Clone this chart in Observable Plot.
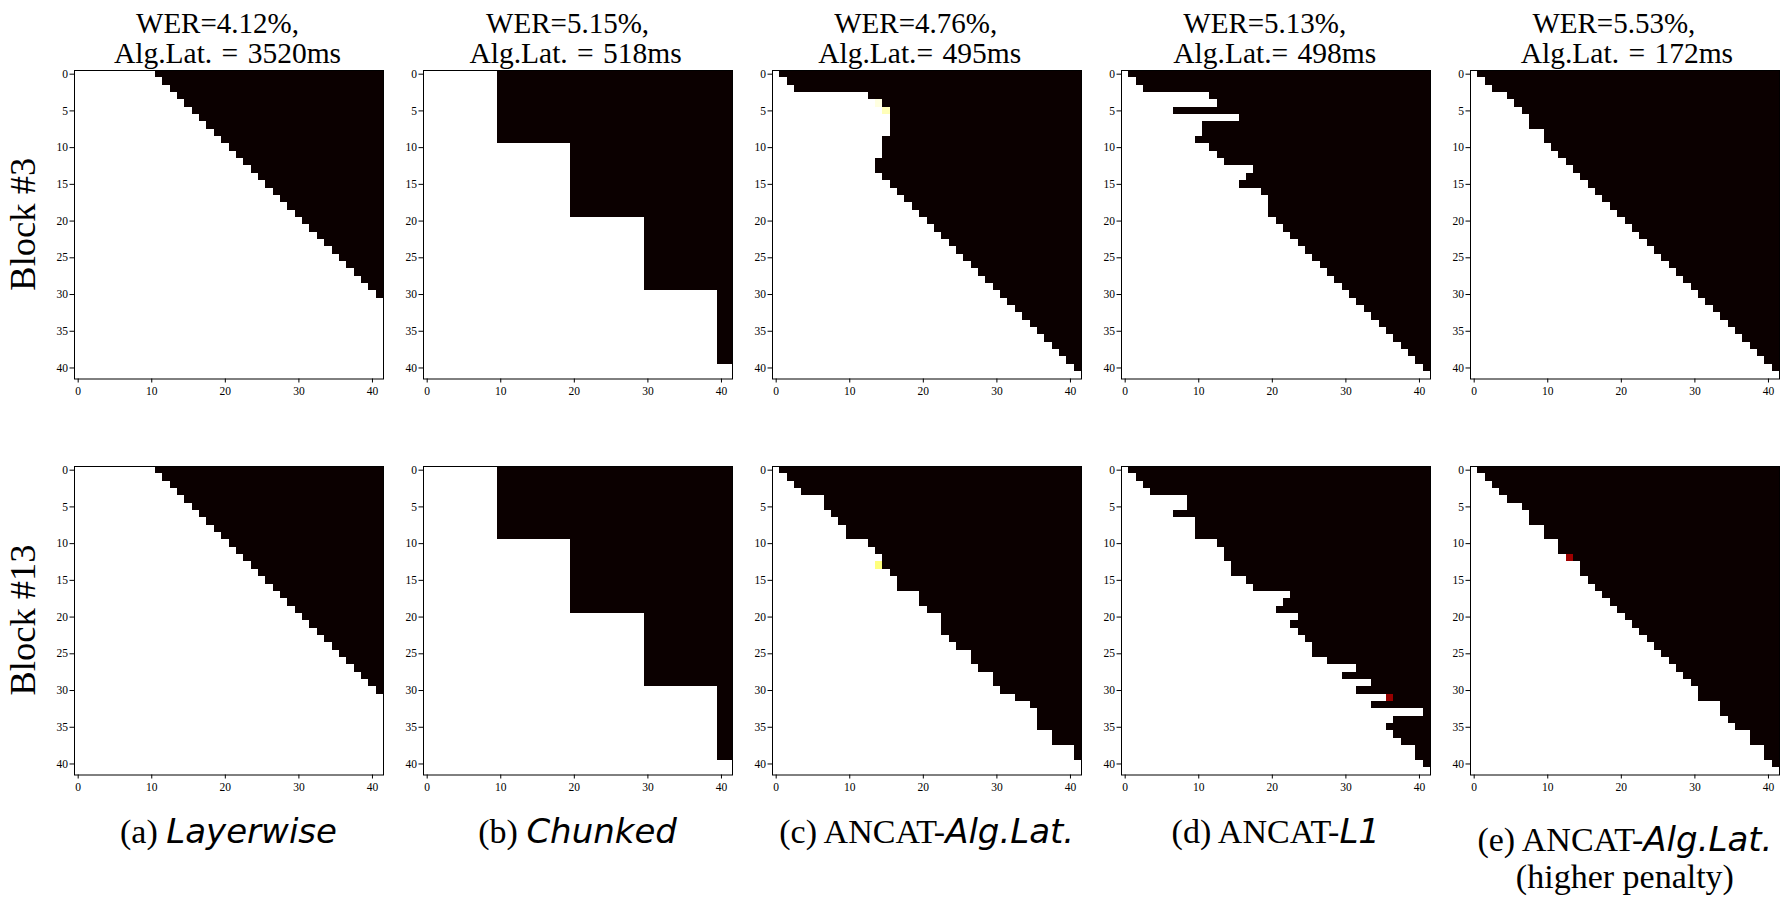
<!DOCTYPE html>
<html><head><meta charset="utf-8">
<script src="https://cdn.jsdelivr.net/npm/d3@7"></script>
<script src="https://cdn.jsdelivr.net/npm/@observablehq/plot@0.6"></script>
<style>
body{margin:0;background:#fff;}
#fig{position:relative;width:1792px;height:907px;overflow:hidden;background:#fff;}
#fig .panel{position:absolute;}
#overlay{position:absolute;left:0;top:0;}
#overlay text{font-family:'Liberation Serif','Times New Roman',serif;}
#overlay tspan.it{font-family:'DejaVu Sans',sans-serif;font-style:italic;}
</style></head><body><div id="fig"></div>
<script>
// ---- data: first masked (black) column for each of the 42 query rows ----
const layerwiseB3  = [11,12,13,14,15,16,17,18,19,20,21,22,23,24,25,26,27,28,29,30,31,32,33,34,35,36,37,38,39,40,41,42,42,42,42,42,42,42,42,42,42,42];
const layerwiseB13 = [11,12,13,14,15,16,17,18,19,20,21,22,23,24,25,26,27,28,29,30,31,32,33,34,35,36,37,38,39,40,41,42,42,42,42,42,42,42,42,42,42,42];
const chunkedB3    = [10,10,10,10,10,10,10,10,10,10,20,20,20,20,20,20,20,20,20,20,30,30,30,30,30,30,30,30,30,30,40,40,40,40,40,40,40,40,40,40,42,42];
const chunkedB13   = [10,10,10,10,10,10,10,10,10,10,20,20,20,20,20,20,20,20,20,20,30,30,30,30,30,30,30,30,30,30,40,40,40,40,40,40,40,40,40,40,42,42];
const ancatLatB3   = [1,2,3,13,15,16,16,16,16,15,15,15,14,14,15,16,17,18,19,20,21,22,23,24,25,26,27,28,29,30,31,32,33,34,35,36,37,38,39,40,41,42];
const ancatLatB13  = [1,2,3,4,7,7,8,9,10,10,13,14,15,15,16,17,17,20,20,21,23,23,23,24,25,27,27,28,30,30,31,33,35,36,36,36,38,38,41,41,42,42];
const ancatL1B3    = [1,2,3,12,13,7,16,11,11,10,12,13,14,18,17,16,19,20,20,20,21,22,23,24,25,26,27,28,29,30,31,32,33,34,35,36,37,38,39,40,41,42];
const ancatL1B13   = [1,2,3,4,9,9,7,10,10,10,13,14,14,15,15,17,18,23,22,21,24,23,24,25,26,26,28,32,30,34,32,37,34,41,37,36,37,38,40,40,41,42];
const ancatHiB3    = [1,2,3,5,6,7,8,8,10,10,11,12,13,14,15,16,17,18,19,20,21,22,23,24,25,26,27,28,29,30,31,32,33,34,35,36,37,38,39,40,41,42];
const ancatHiB13   = [1,2,3,4,5,7,8,8,10,10,12,12,14,15,15,16,17,18,19,20,21,22,23,24,25,26,27,28,29,30,31,31,34,34,35,36,38,38,40,40,41,42];
// partially attended cells: [row, col, weight]
const ancatLatB3Partial  = [[4,14,0.97],[5,15,0.93]];
const ancatLatB13Partial = [[13,14,0.87]];
const ancatL1B13Partial  = [[31,36,0.21]];
const ancatHiB13Partial  = [[12,13,0.22]];

const xTicks = [0,10,20,30,40];
const yTicks = [0,5,10,15,20,25,30,35,40];
const blockLabels = ["Block #3","Block #13"];
const titleLine1 = ["WER=4.12%,","WER=5.15%,","WER=4.76%,","WER=5.13%,","WER=5.53%,"];
const titleLine2 = ["Alg.Lat. = 3520ms","Alg.Lat. = 518ms","Alg.Lat.= 495ms","Alg.Lat.= 498ms","Alg.Lat. = 172ms"];
const captionPlain = ["(a) ","(b) ","(c) ANCAT-","(d) ANCAT-","(e) ANCAT-"];
const captionItalic = ["Layerwise","Chunked","Alg.Lat.","L1","Alg.Lat."];
const captionExtra = ["","","","","(higher penalty)"];

const grid = [
  [[layerwiseB3,[]],[chunkedB3,[]],[ancatLatB3,ancatLatB3Partial],[ancatL1B3,[]],[ancatHiB3,[]]],
  [[layerwiseB13,[]],[chunkedB13,[]],[ancatLatB13,ancatLatB13Partial],[ancatL1B13,ancatL1B13Partial],[ancatHiB13,ancatHiB13Partial]]
];

// ---- layout ----
const N = 42;
const PW = 309, PH = 308.5;
const colLeft = c => 74 + 349.1 * c;
const rowTop = [70, 465.7];
const ml = 40, mr = 6, mt = 6, mb = 30;
const serif = "'Liberation Serif','Times New Roman',serif";

const fig = document.getElementById("fig");

grid.forEach((rowPanels, r) => {
  rowPanels.forEach(([bounds, partial], c) => {
    const segs = [];
    bounds.forEach((b, i) => {
      if (b > 0) segs.push({row: i, from: 0, to: b, v: 1});
      if (b < N) segs.push({row: i, from: b, to: N, v: 0});
    });
    const cells = partial.map(([row, col, v]) => ({row, from: col, to: col + 1, v}));
    const svg = Plot.plot({
      width: PW + ml + mr,
      height: PH + mt + mb,
      marginLeft: ml, marginRight: mr, marginTop: mt, marginBottom: mb,
      style: {fontFamily: serif, fontSize: "11.5px", background: "transparent", color: "black"},
      x: {domain: [-0.5, N - 0.5]},
      y: {domain: [-0.5, N - 0.5], reverse: true},
      color: {type: "linear", domain: [0, 0.365079, 0.746032, 1], range: ["#0b0000", "#ff0000", "#ffff00", "#ffffff"]},
      marks: [
        Plot.rect(segs.concat(cells), {
          x1: d => d.from - 0.5, x2: d => d.to - 0.5,
          y1: d => d.row - 0.5, y2: d => d.row + 0.5,
          fill: "v", shapeRendering: "crispEdges"
        }),
        Plot.frame({stroke: "black", strokeWidth: 1}),
        Plot.axisX(xTicks, {tickSize: 4, tickPadding: 4, label: null, fontSize: 11.5}),
        Plot.axisY(yTicks, {tickSize: 4.5, tickPadding: 2, label: null, fontSize: 11.5})
      ]
    });
    svg.classList.add("panel");
    svg.style.left = (colLeft(c) - ml) + "px";
    svg.style.top = (rowTop[r] - mt) + "px";
    fig.appendChild(svg);
  });
});

// ---- text overlay ----
const ov = d3.select(fig).append("svg").attr("id", "overlay")
  .attr("width", 1792).attr("height", 907);

const l1dx = [-11, -10, -11, -11, -11];
const l2dx = [-1, -2, -7, -1, 2];
for (let c = 0; c < 5; c++) {
  const cx = colLeft(c) + PW / 2;
  ov.append("text").attr("x", cx + l1dx[c]).attr("y", 33).attr("text-anchor", "middle")
    .attr("font-family", serif).attr("font-size", 29).text(titleLine1[c]);
  ov.append("text").attr("x", cx + l2dx[c]).attr("y", 63).attr("text-anchor", "middle")
    .attr("font-family", serif).attr("font-size", 29.5).attr("word-spacing", 2).text(titleLine2[c]);
  const extra = captionExtra[c] !== "";
  const t = ov.append("text").attr("x", cx).attr("y", extra ? 851 : 843)
    .attr("text-anchor", "middle").attr("font-family", serif).attr("font-size", 34);
  t.append("tspan").text(captionPlain[c]);
  t.append("tspan").attr("class", "it").text(captionItalic[c]);
  if (extra) {
    ov.append("text").attr("x", cx).attr("y", 888).attr("text-anchor", "middle")
      .attr("font-family", serif).attr("font-size", 34).text(captionExtra[c]);
  }
}
blockLabels.forEach((lab, r) => {
  const cy = rowTop[r] + PH / 2;
  ov.append("text").attr("transform", `translate(35,${cy}) rotate(-90)`)
    .attr("text-anchor", "middle").attr("font-family", serif).attr("font-size", 36.5).text(lab);
});
</script></body></html>
